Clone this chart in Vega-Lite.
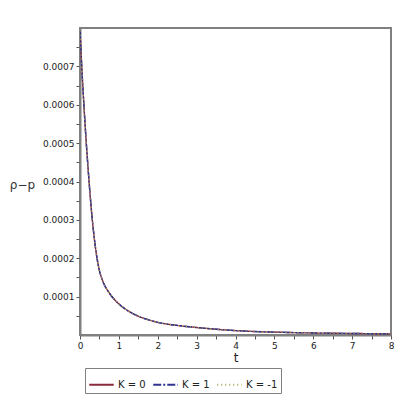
{
  "$schema": "https://vega.github.io/schema/vega-lite/v6.json",
  "autosize": {"type": "none"},
  "padding": {"left": 80, "top": 28, "right": 9, "bottom": 65},
  "width": 311,
  "height": 307,
  "background": "white",
  "config": {
    "view": {"stroke": "#808080", "strokeWidth": 2},
    "font": "DejaVu Sans"
  },
  "data": {
    "values": [
      {"t": 0, "v": 0.000793, "K": "K = 0"},
      {"t": 0.05, "v": 0.000690, "K": "K = 0"},
      {"t": 0.1, "v": 0.000600, "K": "K = 0"},
      {"t": 0.15, "v": 0.000518, "K": "K = 0"},
      {"t": 0.2, "v": 0.000445, "K": "K = 0"},
      {"t": 0.25, "v": 0.000378, "K": "K = 0"},
      {"t": 0.3, "v": 0.000318, "K": "K = 0"},
      {"t": 0.35, "v": 0.000268, "K": "K = 0"},
      {"t": 0.4, "v": 0.000226, "K": "K = 0"},
      {"t": 0.5, "v": 0.000168, "K": "K = 0"},
      {"t": 0.6, "v": 0.000137, "K": "K = 0"},
      {"t": 0.75, "v": 0.000110, "K": "K = 0"},
      {"t": 1.0, "v": 0.000081, "K": "K = 0"},
      {"t": 1.25, "v": 0.000062, "K": "K = 0"},
      {"t": 1.5, "v": 0.000049, "K": "K = 0"},
      {"t": 1.75, "v": 0.000040, "K": "K = 0"},
      {"t": 2, "v": 0.000033, "K": "K = 0"},
      {"t": 2.5, "v": 0.000025, "K": "K = 0"},
      {"t": 3, "v": 0.0000195, "K": "K = 0"},
      {"t": 3.5, "v": 0.000015, "K": "K = 0"},
      {"t": 4, "v": 0.0000115, "K": "K = 0"},
      {"t": 4.5, "v": 0.000009, "K": "K = 0"},
      {"t": 5, "v": 0.0000075, "K": "K = 0"},
      {"t": 6, "v": 0.0000052, "K": "K = 0"},
      {"t": 7, "v": 0.000004, "K": "K = 0"},
      {"t": 8, "v": 0.000003, "K": "K = 0"},
      {"t": 0, "v": 0.000793, "K": "K = 1"},
      {"t": 0.05, "v": 0.000690, "K": "K = 1"},
      {"t": 0.1, "v": 0.000600, "K": "K = 1"},
      {"t": 0.15, "v": 0.000518, "K": "K = 1"},
      {"t": 0.2, "v": 0.000445, "K": "K = 1"},
      {"t": 0.25, "v": 0.000378, "K": "K = 1"},
      {"t": 0.3, "v": 0.000318, "K": "K = 1"},
      {"t": 0.35, "v": 0.000268, "K": "K = 1"},
      {"t": 0.4, "v": 0.000226, "K": "K = 1"},
      {"t": 0.5, "v": 0.000168, "K": "K = 1"},
      {"t": 0.6, "v": 0.000137, "K": "K = 1"},
      {"t": 0.75, "v": 0.000110, "K": "K = 1"},
      {"t": 1.0, "v": 0.000081, "K": "K = 1"},
      {"t": 1.25, "v": 0.000062, "K": "K = 1"},
      {"t": 1.5, "v": 0.000049, "K": "K = 1"},
      {"t": 1.75, "v": 0.000040, "K": "K = 1"},
      {"t": 2, "v": 0.000033, "K": "K = 1"},
      {"t": 2.5, "v": 0.000025, "K": "K = 1"},
      {"t": 3, "v": 0.0000195, "K": "K = 1"},
      {"t": 3.5, "v": 0.000015, "K": "K = 1"},
      {"t": 4, "v": 0.0000115, "K": "K = 1"},
      {"t": 4.5, "v": 0.000009, "K": "K = 1"},
      {"t": 5, "v": 0.0000075, "K": "K = 1"},
      {"t": 6, "v": 0.0000052, "K": "K = 1"},
      {"t": 7, "v": 0.000004, "K": "K = 1"},
      {"t": 8, "v": 0.000003, "K": "K = 1"},
      {"t": 0, "v": 0.000793, "K": "K = -1"},
      {"t": 0.05, "v": 0.000690, "K": "K = -1"},
      {"t": 0.1, "v": 0.000600, "K": "K = -1"},
      {"t": 0.15, "v": 0.000518, "K": "K = -1"},
      {"t": 0.2, "v": 0.000445, "K": "K = -1"},
      {"t": 0.25, "v": 0.000378, "K": "K = -1"},
      {"t": 0.3, "v": 0.000318, "K": "K = -1"},
      {"t": 0.35, "v": 0.000268, "K": "K = -1"},
      {"t": 0.4, "v": 0.000226, "K": "K = -1"},
      {"t": 0.5, "v": 0.000168, "K": "K = -1"},
      {"t": 0.6, "v": 0.000137, "K": "K = -1"},
      {"t": 0.75, "v": 0.000110, "K": "K = -1"},
      {"t": 1.0, "v": 0.000081, "K": "K = -1"},
      {"t": 1.25, "v": 0.000062, "K": "K = -1"},
      {"t": 1.5, "v": 0.000049, "K": "K = -1"},
      {"t": 1.75, "v": 0.000040, "K": "K = -1"},
      {"t": 2, "v": 0.000033, "K": "K = -1"},
      {"t": 2.5, "v": 0.000025, "K": "K = -1"},
      {"t": 3, "v": 0.0000195, "K": "K = -1"},
      {"t": 3.5, "v": 0.000015, "K": "K = -1"},
      {"t": 4, "v": 0.0000115, "K": "K = -1"},
      {"t": 4.5, "v": 0.000009, "K": "K = -1"},
      {"t": 5, "v": 0.0000075, "K": "K = -1"},
      {"t": 6, "v": 0.0000052, "K": "K = -1"},
      {"t": 7, "v": 0.000004, "K": "K = -1"},
      {"t": 8, "v": 0.000003, "K": "K = -1"}
    ]
  },
  "mark": {"type": "line", "interpolate": "monotone", "strokeWidth": 1.4, "clip": true},
  "encoding": {
    "x": {
      "field": "t", "type": "quantitative",
      "scale": {"domain": [0, 8], "nice": false, "zero": false},
      "axis": {
        "title": "t", "titleFont": "DejaVu Sans", "titleFontSize": 12, "titleFontWeight": "normal", "titleColor": "#222", "titlePadding": 2,
        "values": [0, 0.5, 1, 1.5, 2, 2.5, 3, 3.5, 4, 4.5, 5, 5.5, 6, 6.5, 7, 7.5, 8],
        "labelExpr": "datum.value % 1 == 0 ? format(datum.value, 'd') : ''",
        "labelFontSize": 9, "labelColor": "#222", "labelPadding": 2, "labelFlush": false,
        "tickColor": "#555", "tickSize": 4, "domainColor": "#808080", "domainWidth": 2, "grid": false
      }
    },
    "y": {
      "field": "v", "type": "quantitative",
      "scale": {"domain": [0, 0.0008], "nice": false},
      "axis": {
        "title": "ρ−p", "titleAngle": 0, "titleX": -58, "titleY": 156, "titleAlign": "center", "titleBaseline": "middle",
        "titleFont": "DejaVu Sans", "titleFontSize": 12, "titleFontWeight": "normal", "titleColor": "#333",
        "values": [0.00005, 0.0001, 0.00015, 0.0002, 0.00025, 0.0003, 0.00035, 0.0004, 0.00045, 0.0005, 0.00055, 0.0006, 0.00065, 0.0007, 0.00075],
        "labelExpr": "round(datum.value * 100000) % 2 == 0 ? format(datum.value, '.4f') : ''",
        "labelFontSize": 9, "labelColor": "#222", "labelPadding": 2,
        "tickColor": "#555", "tickSize": 4, "domainColor": "#808080", "domainWidth": 2, "grid": false
      }
    },
    "color": {
      "field": "K", "type": "nominal",
      "scale": {"domain": ["K = 0", "K = 1", "K = -1"], "range": ["#8a2a3c", "#2f3490", "#a8a45a"]},
      "legend": {
        "title": null, "orient": "none", "direction": "horizontal", "legendX": 5, "legendY": 340,
        "strokeColor": "#808080", "padding": 3, "fillColor": "white",
        "symbolType": "stroke", "symbolSize": 600, "symbolStrokeWidth": 2,
        "labelFontSize": 10, "labelColor": "#222", "columnPadding": 3, "labelOffset": 3
      }
    },
    "strokeDash": {
      "field": "K", "type": "nominal",
      "scale": {"domain": ["K = 0", "K = 1", "K = -1"], "range": [[1, 0], [8, 2, 2, 2], [1, 3]]},
      "legend": null
    },
    "order": {"field": "K", "sort": "descending"}
  }
}
